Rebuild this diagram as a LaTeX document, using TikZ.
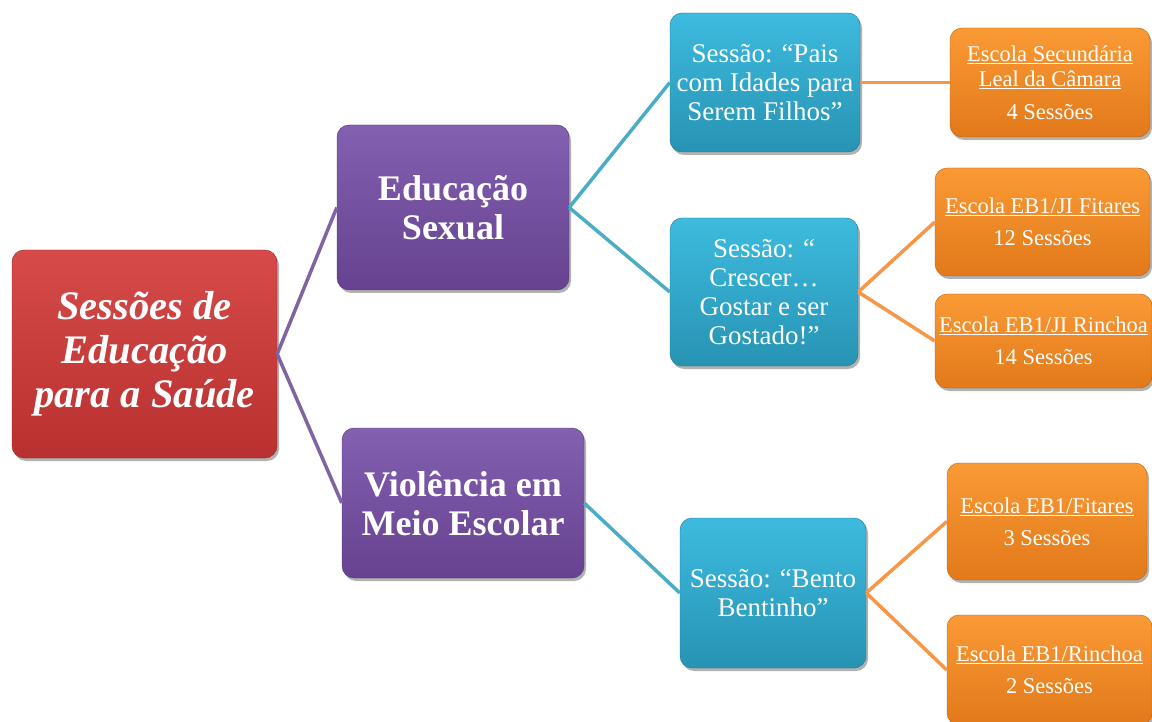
\documentclass[tikz,border=0pt]{standalone}
\usepackage{fontspec}
\setmainfont{Liberation Serif}
\usetikzlibrary{shadows}

\definecolor{redtop}{HTML}{D64B4A}
\definecolor{redbot}{HTML}{B8302F}
\definecolor{purtop}{HTML}{8360B0}
\definecolor{purbot}{HTML}{664290}
\definecolor{cyatop}{HTML}{3DBBDF}
\definecolor{cyabot}{HTML}{2793B3}
\definecolor{oratop}{HTML}{FA9A35}
\definecolor{orabot}{HTML}{E2791A}
\definecolor{purline}{HTML}{8064A2}
\definecolor{cyaline}{HTML}{4BACC6}
\definecolor{oraline}{HTML}{F79646}

\tikzset{
  box/.style={rectangle, rounded corners=12pt, text=white, align=center, inner sep=1pt,
    drop shadow={shadow xshift=2pt, shadow yshift=-3pt, opacity=0.3, fill=black}},
  rootbox/.style={box, top color=redtop, bottom color=redbot, draw=redbot!80!black,
    font=\fontsize{40.5}{44}\selectfont\bfseries\itshape},
  themebox/.style={box, top color=purtop, bottom color=purbot, draw=purbot!80!black,
    font=\fontsize{36}{39}\selectfont\bfseries},
  sessbox/.style={box, top color=cyatop, bottom color=cyabot, draw=cyabot!80!black,
    font=\fontsize{27}{29}\selectfont},
  schoolbox/.style={box, top color=oratop, bottom color=orabot, draw=orabot!80!black,
    font=\fontsize{22.5}{25}\selectfont},
  link/.style={line width=3.5pt}
}

\begin{document}
\begin{tikzpicture}[x=1pt,y=-1pt]
\useasboundingbox (0,0) rectangle (1152,722);
%----root----------------------------------------
\node[rootbox, minimum width=265pt, minimum height=208pt] (root) at (144.5,354)
  {Sessões de\\Educação\\para a Saúde};
%----themes--------------------------------------
\node[themebox, minimum width=232pt, minimum height=165pt] (sexual) at (453,207.5)
  {Educação\\Sexual};
\node[themebox, minimum width=242pt, minimum height=150pt] (violencia) at (463,503)
  {Violência em\\Meio Escolar};
%----sessions------------------------------------
\node[sessbox, minimum width=190pt, minimum height=139pt] (pais) at (765,82.5)
  {Sessão: “Pais\\com Idades para\\Serem Filhos”};
\node[sessbox, minimum width=188pt, minimum height=148pt] (crescer) at (764,292)
  {Sessão: “\\Crescer…\\Gostar e ser\\Gostado!”};
\node[sessbox, minimum width=186pt, minimum height=150pt] (bento) at (773,593)
  {Sessão: “Bento\\Bentinho”};
%----schools-------------------------------------
\node[schoolbox, minimum width=200pt, minimum height=109pt] (leal) at (1050,82.5)
  {\underline{Escola Secundária}\\\underline{Leal da Câmara}\\[8pt]4 Sessões};
\node[schoolbox, minimum width=215pt, minimum height=108pt] (jifit) at (1042.5,222)
  {\underline{Escola EB1/JI Fitares}\\[7pt]12 Sessões};
\node[schoolbox, minimum width=217pt, minimum height=94pt] (jirin) at (1043.5,341)
  {\underline{Escola EB1/JI Rinchoa}\\[7pt]14 Sessões};
\node[schoolbox, minimum width=200pt, minimum height=117pt] (ebfit) at (1047,521.5)
  {\underline{Escola EB1/Fitares}\\[7pt]3 Sessões};
\node[schoolbox, minimum width=205pt, minimum height=110pt] (ebrin) at (1049.5,670)
  {\underline{Escola EB1/Rinchoa}\\[7pt]2 Sessões};
%----links---------------------------------------
\draw[link, purline] (root.east) -- (sexual.west);
\draw[link, purline] (root.east) -- (violencia.west);
\draw[link, cyaline] (sexual.east) -- (pais.west);
\draw[link, cyaline] (sexual.east) -- (crescer.west);
\draw[link, cyaline] (violencia.east) -- (bento.west);
\draw[link, oraline] (pais.east) -- (leal.west);
\draw[link, oraline] (crescer.east) -- (jifit.west);
\draw[link, oraline] (crescer.east) -- (jirin.west);
\draw[link, oraline] (bento.east) -- (ebfit.west);
\draw[link, oraline] (bento.east) -- (ebrin.west);
\end{tikzpicture}
\end{document}
